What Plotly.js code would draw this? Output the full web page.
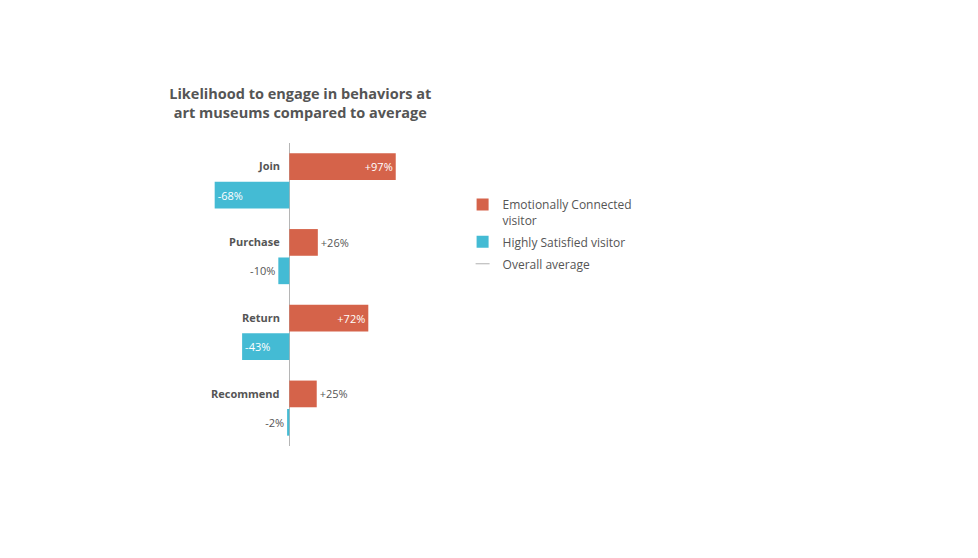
<!DOCTYPE html>
<html>
<head>
<meta charset="utf-8">
<script src="https://cdn.plot.ly/plotly-3.0.1.min.js"></script>
<style>
  body { margin: 0; background: #fff; }
  #chart { width: 978px; height: 558px; }
</style>
</head>
<body>
<div id="chart"></div>
<script>
// values (% vs overall average)
var behaviors = ['Join', 'Purchase', 'Return', 'Recommend'];
var emotionallyConnected = [97, 26, 72, 25];
var highlySatisfied = [-68, -10, -43, -2];

var red = '#d5634a';
var blue = '#44bbd4';
var grey = '#555555';

function pctLabels(vals) {
    return vals.map(v => (v > 0 ? '+' : '') + v + '%');
}

var Emotional = {
    y: behaviors,
    x: emotionallyConnected,
    orientation: 'h',
    type: 'bar',
    name: 'Emotionally Connected<br>visitor',
    legendgroup: 'a',
    marker: { color: red },
    text: pctLabels(emotionallyConnected),
    textposition: 'auto',
    insidetextanchor: 'end',
    insidetextfont: { color: '#ffffff', size: 11 },
    outsidetextfont: { color: grey, size: 11 },
    constraintext: 'none',
    cliponaxis: false
};

var Satisfied = {
    y: behaviors,
    x: highlySatisfied,
    orientation: 'h',
    type: 'bar',
    name: 'Highly Satisfied visitor',
    legendgroup: 'b',
    marker: { color: blue },
    text: pctLabels(highlySatisfied),
    textposition: 'auto',
    insidetextanchor: 'end',
    insidetextfont: { color: '#ffffff', size: 11 },
    outsidetextfont: { color: grey, size: 11 },
    constraintext: 'none',
    cliponaxis: false
};

// legend entry only (kept on hidden axes), the line itself is the x zero line
var OverallAverage = {
    x: [0],
    y: [0],
    xaxis: 'x2',
    yaxis: 'y2',
    type: 'scatter',
    mode: 'markers',
    name: 'Overall average',
    legendgroup: 'c',
    marker: { symbol: 'line-ew-open', size: 10, color: '#b0b0b0', line: { color: '#b0b0b0', width: 1 } }
};

// category names sit beside the red bar
var labels = behaviors.map(b => ({
    x: 0,
    y: b,
    xref: 'x',
    yref: 'y',
    text: '<b>' + b + '</b>',
    showarrow: false,
    xanchor: 'right',
    xshift: -7,
    yshift: 15,
    font: { size: 11, color: grey }
}));

var layout = {
    width: 978,
    height: 558,
    font: { family: 'Open Sans, sans-serif', color: grey },
    paper_bgcolor: '#ffffff',
    plot_bgcolor: '#ffffff',
    title: {
        text: '<b>Likelihood to engage in behaviors at<br>art museums compared to average</b>',
        font: { size: 14.5, color: grey },
        x: 0.307,
        xref: 'container',
        xanchor: 'center',
        y: 0.823,
        yref: 'container',
        yanchor: 'top'
    },
    barmode: 'group',
    bargap: 0.25,
    bargroupgap: 0.06,
    showlegend: true,
    legend: {
        x: 0.473,
        xref: 'container',
        xanchor: 'left',
        y: 0.659,
        yref: 'container',
        yanchor: 'top',
        font: { size: 12, color: grey },
        traceorder: 'grouped',
        tracegroupgap: 3,
        valign: 'top'
    },
    margin: { l: 207, r: 568, t: 143, b: 112, pad: 0, autoexpand: false },
    xaxis: {
        range: [-75, 110],
        showgrid: false,
        showticklabels: false,
        ticks: '',
        zeroline: true,
        zerolinecolor: '#b5b5b5',
        zerolinewidth: 1,
        fixedrange: true
    },
    yaxis: {
        type: 'category',
        autorange: 'reversed',
        showgrid: false,
        showticklabels: false,
        ticks: '',
        zeroline: false,
        fixedrange: true
    },
    xaxis2: { overlaying: 'x', visible: false, range: [1, 2] },
    yaxis2: { overlaying: 'y', visible: false, range: [1, 2] },
    annotations: labels,
    hovermode: false
};

Plotly.newPlot('chart', [Emotional, Satisfied, OverallAverage], layout, { displayModeBar: false, staticPlot: true });
</script>
</body>
</html>
